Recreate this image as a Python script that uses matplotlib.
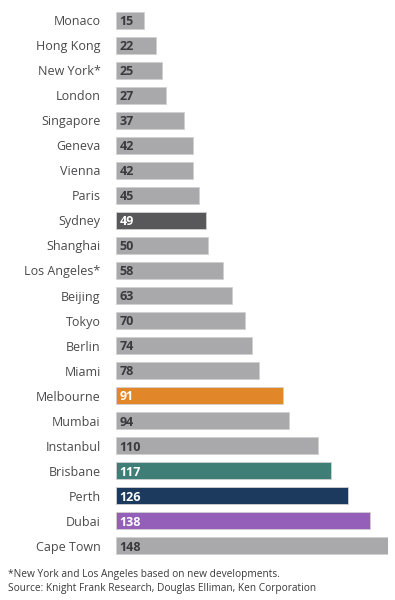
import matplotlib
matplotlib.use('Agg')
import matplotlib.pyplot as plt

plt.rcParams['font.family'] = ['Open Sans', 'DejaVu Sans']

cities = ['Monaco', 'Hong Kong', 'New York*', 'London', 'Singapore', 'Geneva', 'Vienna',
          'Paris', 'Sydney', 'Shanghai', 'Los Angeles*', 'Beijing', 'Tokyo', 'Berlin',
          'Miami', 'Melbourne', 'Mumbai', 'Instanbul', 'Brisbane', 'Perth', 'Dubai', 'Cape Town']
values = [15, 22, 25, 27, 37, 42, 42, 45, 49, 50, 58, 63, 70, 74, 78, 91, 94, 110, 117, 126, 138, 148]

# highlighted cities get their own colour, the rest stay grey
highlight = {'Sydney': '#58585a', 'Melbourne': '#e2862a', 'Brisbane': '#3f7d77',
             'Perth': '#1c3a5e', 'Dubai': '#935fb9'}
grey = '#a9a9ab'

fig = plt.figure(figsize=(3.95, 6.0), dpi=100)
W, H = 395, 600
ax = fig.add_axes([116 / W, 1 - 558.5 / H, 272 / W, 551 / H])

ypos = list(range(len(cities)))
colors = [highlight.get(c, grey) for c in cities]
ax.barh(ypos, values, height=0.68, color=colors, edgecolor='#d0d0d0', linewidth=0.6)

for y, v, c in zip(ypos, values, cities):
    tc = 'white' if c in highlight else '#3a3a3c'
    ax.text(1.8, y + 0.05, str(v), va='center', ha='left', fontsize=9,
            fontweight='bold', color=tc)

ax.set_xlim(0, 148)
ax.set_ylim(len(cities) - 0.5, -0.5)
ax.set_yticks(ypos)
ax.set_yticklabels(cities, fontsize=9, color='#4a4a4c')
ax.tick_params(axis='y', length=0, pad=11)
ax.set_xticks([])
for s in ax.spines.values():
    s.set_visible(False)

fig.text(8 / W, 1 - 574 / H, '*New York and Los Angeles based on new developments.',
         fontsize=7.3, color='#3a3a3c', va='center')
fig.text(8 / W, 1 - 588 / H, 'Source: Knight Frank Research, Douglas Elliman, Ken Corporation',
         fontsize=7.3, color='#3a3a3c', va='center')

fig.savefig('out.png', dpi=100, facecolor='white')
